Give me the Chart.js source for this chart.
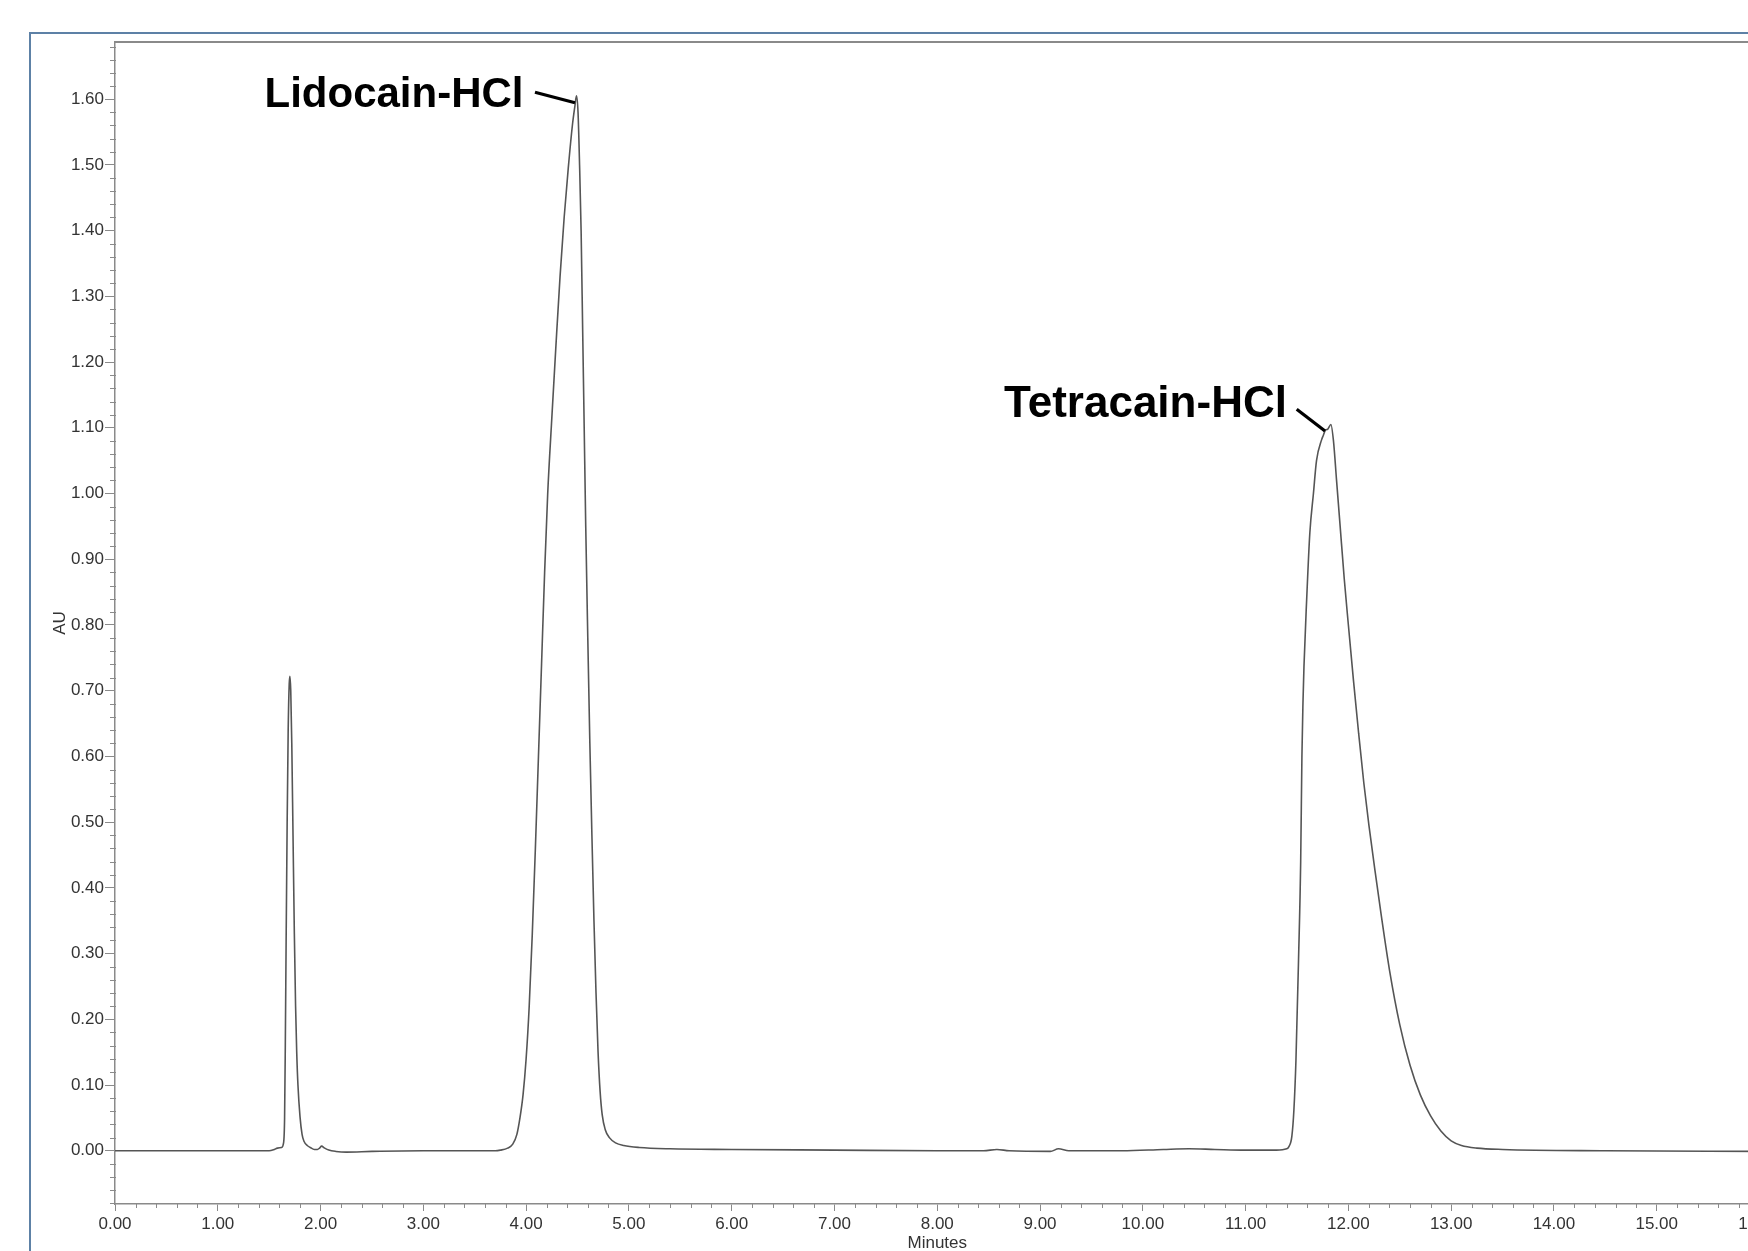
<!DOCTYPE html>
<html lang="de">
<head>
    <meta charset="UTF-8">
    <title>Chromatogramm Lidocain-HCl / Tetracain-HCl</title>
    <script src="https://cdn.jsdelivr.net/npm/chart.js"></script>
    <style>
        html, body {
            margin: 0;
            padding: 0;
            background: #ffffff;
            width: 1748px;
            height: 1251px;
            overflow: hidden;
        }
        .frame {
            position: absolute;
            left: 29px;
            top: 32px;
            width: 1900px;
            height: 1400px;
            border: 2px solid #5d81a6;
            box-sizing: border-box;
        }
        #chromChart {
            position: absolute;
            left: 0;
            top: 0;
        }
    </style>
</head>
<body>
    <div class="frame"></div>
    <canvas id="chromChart" width="1850" height="1300"></canvas>

    <script>
    var times = [
        0.00, 0.50, 1.00, 1.40, 1.50, 1.55, 1.58, 1.62, 1.64, 1.650,
        1.657, 1.665, 1.675, 1.685, 1.695, 1.702, 1.710, 1.720, 1.732, 1.745,
        1.757, 1.768, 1.780, 1.800, 1.820, 1.840, 1.870, 1.900, 1.940, 1.970,
        1.990, 2.010, 2.040, 2.080, 2.150, 2.250, 2.500, 3.000, 3.500, 3.700,
        3.750, 3.820, 3.870, 3.910, 3.940, 3.970, 4.000, 4.030, 4.060, 4.090,
        4.120, 4.150, 4.180, 4.210, 4.250, 4.290, 4.330, 4.370, 4.410, 4.450,
        4.475, 4.490, 4.505, 4.520, 4.535, 4.550, 4.565, 4.580, 4.600, 4.620,
        4.640, 4.660, 4.680, 4.700, 4.720, 4.740, 4.770, 4.810, 4.870, 4.950,
        5.100, 5.400, 6.000, 7.000, 8.000, 8.450, 8.580, 8.700, 9.100, 9.180,
        9.280, 9.800, 10.200, 10.450, 10.700, 11.000, 11.300, 11.400, 11.420, 11.450,
        11.470, 11.490, 11.515, 11.536, 11.548, 11.558, 11.568, 11.594, 11.625, 11.660,
        11.690, 11.740, 11.755, 11.775, 11.800, 11.830, 11.855, 11.885, 11.920, 11.960,
        12.000, 12.050, 12.100, 12.150, 12.200, 12.260, 12.320, 12.400, 12.500, 12.600,
        12.700, 12.800, 12.900, 13.000, 13.100, 13.250, 13.500, 14.500, 16.000
    ];
    var absorbance = [
        0.000, 0.000, 0.000, 0.000, 0.000, 0.002, 0.004, 0.005, 0.012, 0.050,
        0.160, 0.320, 0.500, 0.640, 0.710, 0.722, 0.700, 0.620, 0.480, 0.330,
        0.220, 0.150, 0.100, 0.052, 0.025, 0.014, 0.008, 0.005, 0.002, 0.002,
        0.004, 0.007, 0.004, 0.001, -0.001, -0.002, -0.001, 0.000, 0.000, 0.000,
        0.001, 0.004, 0.010, 0.025, 0.050, 0.085, 0.140, 0.220, 0.330, 0.460,
        0.600, 0.740, 0.880, 1.000, 1.115, 1.225, 1.330, 1.420, 1.495, 1.560,
        1.590, 1.605, 1.580, 1.500, 1.400, 1.250, 1.100, 0.950, 0.780, 0.620,
        0.480, 0.350, 0.240, 0.150, 0.090, 0.055, 0.032, 0.020, 0.012, 0.008,
        0.005, 0.003, 0.002, 0.001, 0.000, 0.000, 0.002, 0.000, -0.001, 0.003,
        0.000, 0.000, 0.002, 0.003, 0.002, 0.001, 0.001, 0.003, 0.006, 0.022,
        0.062, 0.138, 0.290, 0.440, 0.600, 0.680, 0.737, 0.838, 0.940, 1.000,
        1.050, 1.082, 1.088, 1.096, 1.098, 1.105, 1.080, 1.020, 0.950, 0.870,
        0.800, 0.715, 0.635, 0.560, 0.495, 0.425, 0.358, 0.275, 0.192, 0.130,
        0.085, 0.053, 0.030, 0.015, 0.008, 0.004, 0.002, 0.000, -0.001
    ];

    var xMajorTicks = [0, 1, 2, 3, 4, 5, 6, 7, 8, 9, 10, 11, 12, 13, 14, 15, 16];
    var yMajorTicks = [0.0, 0.1, 0.2, 0.3, 0.4, 0.5, 0.6, 0.7, 0.8, 0.9, 1.0, 1.1, 1.2, 1.3, 1.4, 1.5, 1.6];

    // Peakbeschriftungen, verankert am Peakmaximum
    var peakNames = ['Lidocain-HCl', 'Tetracain-HCl'];
    var peakTimes = [4.49, 11.83];
    var peakHeights = [1.605, 1.105];

    var axisColor = '#8a8a8a';
    var labelColor = '#333333';
    var fontFamily = '"Liberation Sans", Arial, sans-serif';

    // Pixelversatz der Beschriftung relativ zum Peak (Linie von/bis, Text rechts unten)
    var labelStyles = [
        { size: 42, x1: -41.5, y1: -3.6, x2: -1.5, y2: 6.8, tx: -53, ty: 10.8 },
        { size: 44, x1: -34.2, y1: -15.2, x2: -5.9, y2: 6.5, tx: -44, ty: -7.8 }
    ];

    var chromPlugin = {
        id: 'chrom',
        afterDraw: function(chart) {
            var ctx = chart.ctx;
            var area = chart.chartArea;
            var xs = chart.scales.x;
            var ys = chart.scales.y;
            var i, px, py;

            ctx.save();
            ctx.strokeStyle = axisColor;
            ctx.lineWidth = 1;
            ctx.beginPath();
            // kleine Teilstriche
            for (i = -4; i <= 84; i++) {
                if (i % 5 === 0) continue;
                py = Math.round(ys.getPixelForValue(i * 0.02)) + 0.5;
                ctx.moveTo(area.left - 5, py);
                ctx.lineTo(area.left + 1, py);
            }
            for (i = 1; i < 80; i++) {
                if (i % 5 === 0) continue;
                px = Math.round(xs.getPixelForValue(i * 0.2)) + 0.5;
                ctx.moveTo(px, area.bottom);
                ctx.lineTo(px, area.bottom + 4);
            }
            ctx.stroke();

            // oberer Rahmen
            ctx.lineWidth = 2;
            ctx.beginPath();
            ctx.moveTo(area.left, area.top);
            ctx.lineTo(chart.width, area.top);
            ctx.stroke();

            // Peakbeschriftungen
            ctx.strokeStyle = '#000000';
            ctx.fillStyle = '#000000';
            ctx.lineWidth = 3.2;
            ctx.textAlign = 'right';
            ctx.textBaseline = 'alphabetic';
            for (i = 0; i < peakNames.length; i++) {
                var s = labelStyles[i];
                px = xs.getPixelForValue(peakTimes[i]);
                py = ys.getPixelForValue(peakHeights[i]);
                ctx.beginPath();
                ctx.moveTo(px + s.x1, py + s.y1);
                ctx.lineTo(px + s.x2, py + s.y2);
                ctx.stroke();
                ctx.font = 'bold ' + s.size + 'px ' + fontFamily;
                ctx.fillText(peakNames[i], px + s.tx, py + s.ty);
            }
            ctx.restore();
        }
    };

    var points = times.map(function(t, i) {
        return { x: t, y: absorbance[i] };
    });

    var ctx = document.getElementById('chromChart').getContext('2d');
    var chart = new Chart(ctx, {
        type: 'line',
        data: {
            datasets: [{
                label: 'AU',
                data: points,
                borderColor: '#555555',
                borderWidth: 1.6,
                pointRadius: 0,
                fill: false,
                cubicInterpolationMode: 'monotone'
            }]
        },
        options: {
            responsive: false,
            animation: false,
            layout: {
                padding: { left: 0, top: 42, right: 90.5, bottom: 36 }
            },
            plugins: {
                legend: { display: false },
                tooltip: { enabled: false }
            },
            scales: {
                x: {
                    type: 'linear',
                    position: 'bottom',
                    min: 0,
                    max: 16,
                    afterBuildTicks: function(scale) {
                        scale.ticks = xMajorTicks.map(function(v) { return { value: v }; });
                    },
                    afterFit: function(scale) {
                        scale.height = 60;
                    },
                    ticks: {
                        autoSkip: false,
                        maxRotation: 0,
                        padding: 3,
                        color: labelColor,
                        font: { family: fontFamily, size: 17 },
                        callback: function(value) { return value.toFixed(2); }
                    },
                    grid: {
                        drawOnChartArea: false,
                        tickLength: 7,
                        color: axisColor,
                        tickColor: axisColor
                    },
                    border: { color: axisColor, width: 1.5 },
                    title: {
                        display: true,
                        text: 'Minutes',
                        color: labelColor,
                        font: { family: fontFamily, size: 17 },
                        padding: { top: 0, bottom: 10.8 }
                    }
                },
                y: {
                    type: 'linear',
                    min: -0.081,
                    max: 1.687,
                    afterBuildTicks: function(scale) {
                        scale.ticks = yMajorTicks.map(function(v) { return { value: v }; });
                    },
                    afterFit: function(scale) {
                        scale.width = 115;
                    },
                    ticks: {
                        autoSkip: false,
                        padding: 1,
                        color: labelColor,
                        font: { family: fontFamily, size: 17 },
                        callback: function(value) { return value.toFixed(2); }
                    },
                    grid: {
                        drawOnChartArea: false,
                        tickLength: 10,
                        color: axisColor,
                        tickColor: axisColor
                    },
                    border: { color: axisColor, width: 1.5 },
                    title: {
                        display: true,
                        text: 'AU',
                        color: labelColor,
                        font: { family: fontFamily, size: 17 },
                        padding: { top: 49.8, bottom: 0 }
                    }
                }
            }
        },
        plugins: [chromPlugin]
    });
    </script>
</body>
</html>
